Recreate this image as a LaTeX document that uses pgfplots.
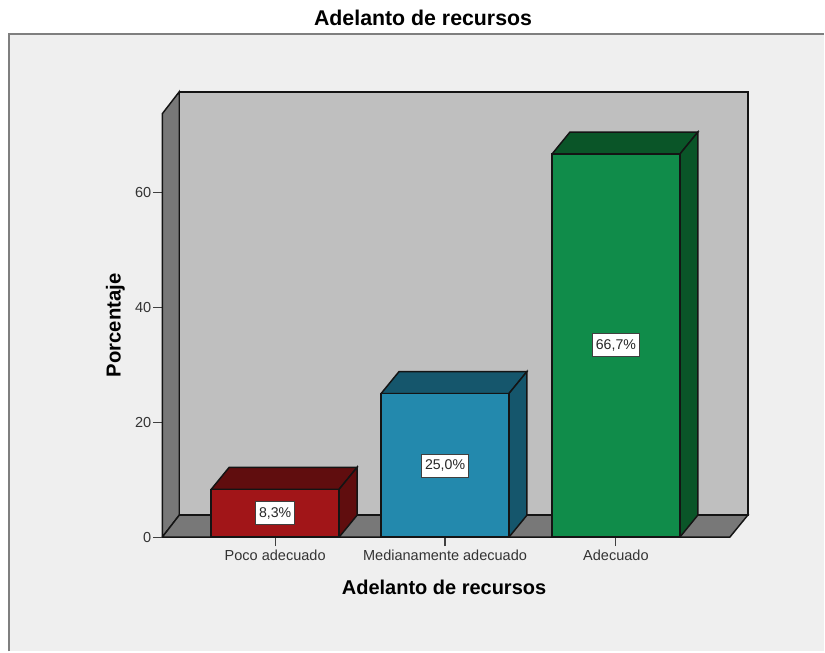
\documentclass[border=0pt]{standalone}
\usepackage{pgfplots}
\pgfplotsset{compat=1.18}
\usepackage{fontspec}
\setmainfont{Liberation Sans}
\definecolor{panel}{HTML}{EFEFEF}
\definecolor{framec}{HTML}{7F7F7F}
\definecolor{wallc}{HTML}{BFBFBF}
\definecolor{sidec}{HTML}{787878}
\definecolor{lnc}{HTML}{141414}
\definecolor{redf}{HTML}{A11518}
\definecolor{redd}{HTML}{600D0E}
\definecolor{bluef}{HTML}{2389AD}
\definecolor{blued}{HTML}{15566C}
\definecolor{greenf}{HTML}{108C4A}
\definecolor{greend}{HTML}{0A5528}
\begin{document}
\begin{tikzpicture}
% page and panel, in pixels relative to the front-left-bottom corner of the chart
\begin{scope}[x=0.75pt,y=0.75pt]
\fill[white] (-162.4,-114.4) rectangle (662.6,537.6);
\fill[panel] (-153.4,-114.4) rectangle (662.6,503.6);
\draw[framec,line width=1pt] (-153.4,-114.4) -- (-153.4,503.6) -- (662.6,503.6);
\end{scope}
\begin{axis}[
  at={(0,0)},anchor=origin,
  scale only axis,width=426pt,height=317.8pt,
  xmin=162,xmax=730,ymin=0,ymax=73.69,
  clip=false,
  axis x line*=bottom,axis y line*=left,
  axis line style={-,draw=lnc,line width=1.1pt},
  xtick align=outside,ytick align=outside,
  major tick length=6.75pt,
  tick style={draw=black!75,line width=0.85pt},
  xtick={275,445,616},
  xticklabels={Poco adecuado,Medianamente adecuado,Adecuado},
  ytick={0,20,40,60},
  tick label style={font=\fontsize{10.9}{12}\selectfont,text=black!80},
  /pgf/number format/assume math mode=true,
  xticklabel style={yshift=1pt},
  yticklabel style={xshift=2pt},
  title={Adelanto de recursos},
  title style={at={(axis description cs:0.4595,1.227)},anchor=center,yshift=-6pt,font=\bfseries\fontsize{16}{18}\selectfont},
  xlabel={Adelanto de recursos},
  xlabel style={at={(axis description cs:0.4965,-0.118)},anchor=center,font=\bfseries\fontsize{15}{17}\selectfont},
  ylabel={Porcentaje},
  ylabel style={at={(axis description cs:-0.0825,0.5)},anchor=center,rotate=0,font=\bfseries\fontsize{15.2}{17}\selectfont},
  every axis plot/.append style={line width=1.1pt,line join=miter},
]
% walls and floor
\addplot[fill=wallc,draw=lnc] coordinates {(179,3.83)(748,3.83)(748,77.52)(179,77.52)(179,3.83)};
\addplot[fill=sidec,draw=lnc] coordinates {(162,0)(179,3.83)(179,77.52)(162,73.69)(162,0)};
\addplot[fill=sidec,draw=lnc] coordinates {(162,0)(179,3.83)(748,3.83)(730,0)(162,0)};
% Poco adecuado
\addplot[fill=redd,draw=lnc] coordinates {(211,8.33)(229,12.16)(357,12.16)(339,8.33)(211,8.33)};
\addplot[fill=redd,draw=lnc] coordinates {(339,0)(357,3.83)(357,12.16)(339,8.33)(339,0)};
\addplot[ybar,bar width=128,fill=redf,draw=lnc] coordinates {(275,8.33)};
% Medianamente adecuado
\addplot[fill=blued,draw=lnc] coordinates {(381,25)(399,28.83)(527,28.83)(509,25)(381,25)};
\addplot[fill=blued,draw=lnc] coordinates {(509,0)(527,3.83)(527,28.83)(509,25)(509,0)};
\addplot[ybar,bar width=128,fill=bluef,draw=lnc] coordinates {(445,25)};
% Adecuado
\addplot[fill=greend,draw=lnc] coordinates {(552,66.67)(570,70.5)(698,70.5)(680,66.67)(552,66.67)};
\addplot[fill=greend,draw=lnc] coordinates {(680,0)(698,3.83)(698,70.5)(680,66.67)(680,0)};
\addplot[ybar,bar width=128,fill=greenf,draw=lnc] coordinates {(616,66.67)};
% value labels
\tikzset{vl/.style={fill=white,draw=black!75,line width=0.8pt,inner xsep=2.6pt,inner ysep=0pt,minimum height=17pt,font=\fontsize{10.6}{12}\selectfont,text=black!85}}
\node[vl] at (axis cs:275,4.2) {8,3\%};
\node[vl] at (axis cs:445,12.4) {25,0\%};
\node[vl] at (axis cs:616,33.4) {66,7\%};
\end{axis}
\end{tikzpicture}
\end{document}
